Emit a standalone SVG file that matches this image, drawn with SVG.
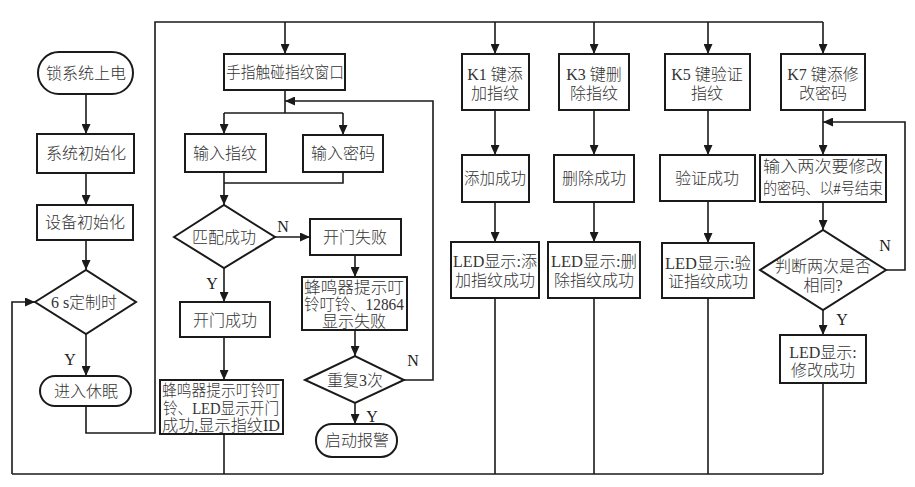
<svg xmlns="http://www.w3.org/2000/svg" width="915" height="487" viewBox="0 0 915 487">
<style>
.b{fill:#fff;stroke:#1a1a1a;stroke-width:2}
.c{fill:none;stroke:#1a1a1a;stroke-width:1.6}
.ca{fill:none;stroke:#1a1a1a;stroke-width:1.6;marker-end:url(#a)}
.t{font-family:"Liberation Serif","Noto Sans CJK SC",serif;font-size:16px;font-weight:300;fill:#333;text-anchor:middle;dominant-baseline:central}
.l{font-family:"Liberation Serif","Noto Sans CJK SC",serif;font-size:16px;fill:#222;text-anchor:middle;dominant-baseline:central}
</style>
<defs>
<marker id="a" markerUnits="userSpaceOnUse" markerWidth="10" markerHeight="9" refX="10" refY="4.5" orient="auto" viewBox="0 0 10 9"><path d="M0,0 L10,4.5 L0,9 z" fill="#1a1a1a"/></marker>
</defs>
<rect width="915" height="487" fill="#fff"/>
<g id="connectors">
<path class="c" d="M86,406 V433 H155 V22 H823"/>
<path class="ca" d="M285,22 V54"/>
<path class="ca" d="M495,22 V54"/>
<path class="ca" d="M594,22 V54"/>
<path class="ca" d="M708,22 V54"/>
<path class="ca" d="M823,22 V54"/>
<path class="ca" d="M86,94 V134"/>
<path class="ca" d="M86,173 V205"/>
<path class="ca" d="M86,240 V270"/>
<path class="ca" d="M86,334 V376"/>
<path class="c" d="M224,434 V474"/>
<path class="c" d="M12,474 H823"/>
<path class="ca" d="M12,474 V302 H35"/>
<path class="c" d="M495,298 V474"/>
<path class="c" d="M594,298 V474"/>
<path class="c" d="M708,298 V474"/>
<path class="c" d="M823,383 V474"/>
<path class="c" d="M285,90 V113"/>
<path class="c" d="M224,113 H343"/>
<path class="ca" d="M224,113 V134"/>
<path class="ca" d="M343,113 V135"/>
<path class="ca" d="M404,380 H433 V101 H285"/>
<path class="c" d="M343,172 V183 H224"/>
<path class="ca" d="M224,172 V205"/>
<path class="ca" d="M275,237 H310"/>
<path class="ca" d="M224,268 V302"/>
<path class="ca" d="M224,337 V380"/>
<path class="ca" d="M355,255 V277"/>
<path class="ca" d="M355,330 V356"/>
<path class="ca" d="M355,403 V424"/>
<path class="ca" d="M495,110 V155"/>
<path class="ca" d="M495,202 V242"/>
<path class="ca" d="M594,110 V155"/>
<path class="ca" d="M594,202 V242"/>
<path class="ca" d="M708,110 V155"/>
<path class="ca" d="M708,201 V243"/>
<path class="ca" d="M823,110 V155"/>
<path class="ca" d="M886,270 H905 V122 H823"/>
<path class="ca" d="M823,202 V230"/>
<path class="ca" d="M823,310 V335"/>
<text class="l" x="283" y="226">N</text>
<text class="l" x="212" y="283">Y</text>
<text class="l" x="413" y="360">N</text>
<text class="l" x="372" y="416">Y</text>
<text class="l" x="70" y="359">Y</text>
<text class="l" x="885" y="245">N</text>
<text class="l" x="842" y="319">Y</text>
</g>
<g id="n1"><rect class="b" x="38" y="52" width="95" height="42" rx="21"/><text class="t" x="86" y="73" font-size="17">锁系统上电</text></g>
<g id="n2"><rect class="b" x="37" y="134" width="97" height="39"/><text class="t" x="86" y="153" font-size="17">系统初始化</text></g>
<g id="n3"><rect class="b" x="37" y="205" width="96" height="35"/><text class="t" x="85" y="222" font-size="17">设备初始化</text></g>
<g id="n4"><polygon class="b" points="35,302 86,270 136,302 86,334"/><text class="t" x="84" y="302">6 s定制时</text></g>
<g id="n5"><rect class="b" x="40" y="376" width="91" height="30" rx="15"/><text class="t" x="86" y="391" font-size="17">进入休眠</text></g>
<g id="n6"><rect class="b" x="224" y="54" width="121" height="36"/><text class="t" x="285" y="72" font-size="15" textLength="118" lengthAdjust="spacingAndGlyphs">手指触碰指纹窗口</text></g>
<g id="n7"><rect class="b" x="185" y="134" width="81" height="38"/><text class="t" x="225" y="153">输入指纹</text></g>
<g id="n8"><rect class="b" x="303" y="135" width="80" height="37"/><text class="t" x="343" y="153">输入密码</text></g>
<g id="n9"><polygon class="b" points="174,237 224,205 275,237 224,268"/><text class="t" x="224" y="237" font-size="17">匹配成功</text></g>
<g id="n10"><rect class="b" x="310" y="219" width="91" height="36"/><text class="t" x="355" y="237" font-size="17">开门失败</text></g>
<g id="n11"><rect class="b" x="302" y="277" width="105" height="53"/><text class="t" x="354" y="287" font-size="15" textLength="100" lengthAdjust="spacingAndGlyphs">蜂鸣器提示叮</text><text class="t" x="354" y="304" font-size="15" textLength="100" lengthAdjust="spacingAndGlyphs">铃叮铃、12864</text><text class="t" x="354" y="321" font-size="15">显示失败</text></g>
<g id="n12"><polygon class="b" points="305,380 355,356 404,380 355,403"/><text class="t" x="355" y="380">重复3次</text></g>
<g id="n13"><rect class="b" x="316" y="424" width="81" height="33" rx="16"/><text class="t" x="357" y="440">启动报警</text></g>
<g id="n14"><rect class="b" x="180" y="302" width="90" height="35"/><text class="t" x="225" y="320" font-size="17">开门成功</text></g>
<g id="n15"><rect class="b" x="160" y="380" width="123" height="54"/><text class="t" x="221" y="390" font-size="15" textLength="118" lengthAdjust="spacingAndGlyphs">蜂鸣器提示叮铃叮</text><text class="t" x="221" y="408" font-size="15" textLength="116" lengthAdjust="spacingAndGlyphs">铃、LED显示开门</text><text class="t" x="221" y="425" font-size="15" textLength="118" lengthAdjust="spacingAndGlyphs">成功,显示指纹ID</text></g>
<g id="n16"><rect class="b" x="462" y="54" width="67" height="56"/><text class="t" x="495" y="74">K1 键添</text><text class="t" x="495" y="93">加指纹</text></g>
<g id="n17"><rect class="b" x="462" y="155" width="67" height="47"/><text class="t" x="495" y="178" textLength="62" lengthAdjust="spacingAndGlyphs">添加成功</text></g>
<g id="n18"><rect class="b" x="451" y="242" width="88" height="56"/><text class="t" x="495" y="261" textLength="84" lengthAdjust="spacingAndGlyphs">LED显示:添</text><text class="t" x="495" y="280">加指纹成功</text></g>
<g id="n19"><rect class="b" x="559" y="54" width="70" height="56"/><text class="t" x="594" y="74">K3 键删</text><text class="t" x="594" y="93">除指纹</text></g>
<g id="n20"><rect class="b" x="554" y="155" width="80" height="47"/><text class="t" x="594" y="178" font-size="17">删除成功</text></g>
<g id="n21"><rect class="b" x="548" y="242" width="92" height="56"/><text class="t" x="594" y="261" textLength="86" lengthAdjust="spacingAndGlyphs">LED显示:删</text><text class="t" x="594" y="280" font-size="17">除指纹成功</text></g>
<g id="n22"><rect class="b" x="665" y="54" width="85" height="56"/><text class="t" x="707" y="74">K5 键验证</text><text class="t" x="707" y="93">指纹</text></g>
<g id="n23"><rect class="b" x="660" y="155" width="95" height="46"/><text class="t" x="707" y="178" font-size="17">验证成功</text></g>
<g id="n24"><rect class="b" x="662" y="243" width="92" height="55"/><text class="t" x="708" y="263" textLength="86" lengthAdjust="spacingAndGlyphs">LED显示:验</text><text class="t" x="708" y="281" font-size="17">证指纹成功</text></g>
<g id="n25"><rect class="b" x="781" y="54" width="84" height="56"/><text class="t" x="823" y="74">K7 键添修</text><text class="t" x="823" y="93">改密码</text></g>
<g id="n26"><rect class="b" x="760" y="155" width="126" height="47"/><text class="t" x="823" y="166" font-size="17" textLength="120" lengthAdjust="spacingAndGlyphs">输入两次要修改</text><text class="t" x="823" y="188" textLength="120" lengthAdjust="spacingAndGlyphs">的密码、以#号结束</text></g>
<g id="n27"><polygon class="b" points="760,270 823,230 886,270 823,310"/><text class="t" x="823" y="266">判断两次是否</text><text class="t" x="823" y="285">相同?</text></g>
<g id="n28"><rect class="b" x="780" y="335" width="86" height="48"/><text class="t" x="823" y="352">LED显示:</text><text class="t" x="823" y="370">修改成功</text></g>
</svg>
